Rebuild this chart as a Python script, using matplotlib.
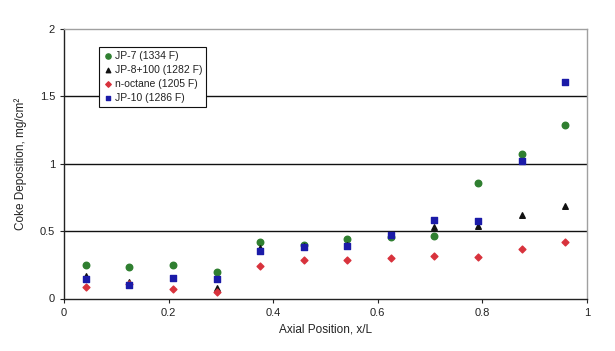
import matplotlib
matplotlib.use("Agg")
import matplotlib.pyplot as plt

plt.rcParams['font.family'] = ['Liberation Sans', 'DejaVu Sans']

x_pos = [0.042, 0.125, 0.208, 0.292, 0.375, 0.458, 0.542, 0.625, 0.708, 0.792, 0.875, 0.958]
jp7 = [0.245, 0.233, 0.25, 0.2, 0.42, 0.40, 0.445, 0.46, 0.462, 0.86, 1.07, 1.287]
jp8 = [0.167, 0.125, 0.15, 0.08, 0.375, 0.39, 0.40, 0.47, 0.527, 0.537, 0.616, 0.686]
octane = [0.087, 0.11, 0.072, 0.045, 0.24, 0.283, 0.283, 0.298, 0.313, 0.308, 0.368, 0.417]
jp10 = [0.143, 0.10, 0.15, 0.145, 0.353, 0.38, 0.388, 0.47, 0.579, 0.574, 1.02, 1.61]

labels = ["JP-7 (1334 F)", "JP-8+100 (1282 F)", "n-octane (1205 F)", "JP-10 (1286 F)"]
y_ticks = [0, 0.5, 1, 1.5, 2]
y_ticklabels = ["0", "0.5", "1", "1.5", "2"]
x_ticks = [0, 0.2, 0.4, 0.6, 0.8, 1]
x_ticklabels = ["0", "0.2", "0.4", "0.6", "0.8", "1"]

fig = plt.figure(figsize=(6.15, 3.51), dpi=100)
ax = fig.add_axes([64/615, 1-298.5/351, 523/615, 269.5/351])

ax.scatter(x_pos, jp7, marker='o', s=22, color='#2f7f30', label=labels[0], zorder=3)
ax.scatter(x_pos, jp8, marker='^', s=16, color='#111111', label=labels[1], zorder=3)
ax.scatter(x_pos, octane, marker='D', s=12, color='#d8323c', label=labels[2], zorder=3)
ax.scatter(x_pos, jp10, marker='s', s=16, color='#1b1ba8', label=labels[3], zorder=4)

ax.set_xlim(0, 1)
ax.set_ylim(0, 2)
ax.set_yticks(y_ticks)
ax.set_yticklabels(y_ticklabels)
ax.set_xticks(x_ticks)
ax.set_xticklabels(x_ticklabels)
ax.tick_params(labelsize=8, length=3, width=0.8, color='#222222', labelcolor='#222222')

for y in [0.5, 1, 1.5]:
    ax.axhline(y, color='#111111', linewidth=1.0, zorder=1)

for side in ['left', 'bottom']:
    ax.spines[side].set_color('#222222')
    ax.spines[side].set_linewidth(1.0)
for side in ['right', 'top']:
    ax.spines[side].set_color('#a0a0a0')
    ax.spines[side].set_linewidth(1.0)

ax.set_xlabel("Axial Position, x/L", fontsize=8.5, color='#222222', labelpad=4)
ax.set_ylabel("Coke Deposition, mg/cm²", fontsize=8.5, color='#222222', labelpad=9)

leg = ax.legend(loc='upper left', bbox_to_anchor=(0.067, 0.935), fontsize=7.5,
                frameon=True, fancybox=False, edgecolor='#111111', framealpha=1,
                handletextpad=0.1, borderpad=0.4, labelspacing=0.38,
                handlelength=1.0, markerscale=0.8, borderaxespad=0)
leg.get_frame().set_linewidth(0.8)
for t in leg.get_texts():
    t.set_color('#222222')

fig.savefig("out.png", dpi=100)
